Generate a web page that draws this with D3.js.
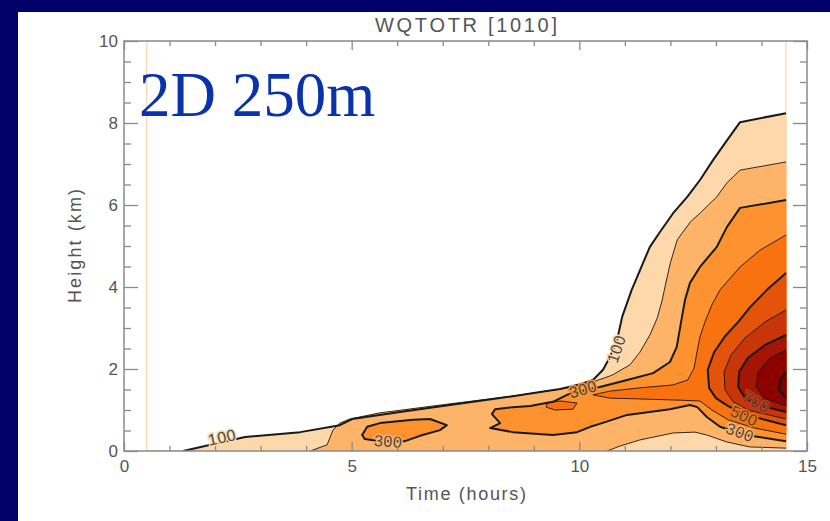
<!DOCTYPE html>
<html><head><meta charset="utf-8">
<script src="https://cdn.jsdelivr.net/npm/d3@7"></script>
<style>html,body{margin:0;padding:0;background:#ffffff;overflow:hidden;} svg{display:block}</style>
</head><body>
<svg id="chart" width="830" height="521"></svg>
<script>
// ---------- data ----------
const timeMajorTicks = [0, 5, 10, 15];
const timeMinorTicks = [1, 2, 3, 4, 6, 7, 8, 9, 11, 12, 13, 14];
const heightMajorTicks = [0, 2, 4, 6, 8, 10];
const heightMinorTicks = [0.5, 1, 1.5, 2.5, 3, 3.5, 4.5, 5, 5.5, 6.5, 7, 7.5, 8.5, 9, 9.5];
const timeStart = 0.5, timeEnd = 14.54;

const levels = [100, 200, 300, 400, 500, 600, 700, 800, 900];
const levelColors = ["#FDD8AA", "#FDB469", "#FD922E", "#F8720F", "#E3530A", "#C83508", "#A51503", "#8C0200", "#780000"];

// contour lines, [time (h), height (km)]
const c100 = [[1.30,0],[1.78,0.12],[2.66,0.34],[3.87,0.46],[4.74,0.63],[5.01,0.78],[6.06,0.95],[7.16,1.12],[8.26,1.29],[9.14,1.44],[9.58,1.51],[10.02,1.63],[10.30,1.73],[10.52,1.98],[10.67,2.29],[10.83,2.71],[10.94,3.27],[11.15,3.93],[11.40,4.59],[11.55,4.98],[11.77,5.34],[12.06,5.80],[12.37,6.20],[12.65,6.61],[12.94,7.10],[13.25,7.59],[13.53,8.02],[14.54,8.24]];
const c200Upper = [[4.09,0],[4.46,0.15],[4.59,0.51],[4.74,0.68],[4.96,0.78],[5.62,0.93],[7.16,1.15],[8.54,1.34],[9.58,1.51],[10.24,1.66],[10.72,1.85],[11.11,2.10],[11.33,2.41],[11.55,2.83],[11.71,3.24],[11.82,3.68],[11.89,4.05],[12.00,4.59],[12.15,5.15],[12.44,5.59],[12.65,5.80],[13.02,6.20],[13.24,6.54],[13.53,6.85],[14.54,7.05]];
const c200Lower = [[14.54,0.07],[13.74,0.10],[13.24,0.22],[12.80,0.39],[12.54,0.46],[12.06,0.44],[11.33,0.27],[10.89,0.12],[10.61,0]];
const c300 = [[14.54,6.12],[13.53,5.93],[13.24,5.46],[13.02,4.98],[12.65,4.49],[12.43,4.10],[12.32,3.68],[12.23,3.12],[12.14,2.54],[11.99,2.17],[11.62,1.90],[11.05,1.73],[10.45,1.56],[10.13,1.49],[9.73,1.37],[9.42,1.20],[8.92,1.10],[8.54,1.07],[8.15,1.02],[8.08,0.90],[8.26,0.68],[8.04,0.56],[8.54,0.46],[9.42,0.39],[9.95,0.46],[10.24,0.59],[10.50,0.68],[11.05,0.88],[11.99,1.02],[12.43,1.12],[12.59,1.07],[12.80,0.83],[13.09,0.59],[13.64,0.39],[14.54,0.24]];
const c300Island = [[5.23,0.39],[5.34,0.59],[5.62,0.68],[6.35,0.76],[6.72,0.78],[7.09,0.63],[6.94,0.51],[6.50,0.37],[6.17,0.24],[5.62,0.24],[5.29,0.29]];
const c400 = [[14.54,5.27],[13.97,4.90],[13.53,4.49],[13.09,3.93],[12.91,3.56],[12.76,3.15],[12.65,2.78],[12.58,2.39],[12.52,2.02],[12.38,1.73],[12.05,1.61],[11.33,1.54],[10.67,1.46],[10.30,1.37],[10.67,1.29],[11.33,1.27],[12.21,1.24],[12.65,1.22],[12.91,1.00],[13.27,0.76],[13.85,0.56],[14.54,0.41]];
const c400Spot = [[9.29,1.17],[9.58,1.22],[9.95,1.17],[9.86,1.02],[9.47,1.00],[9.27,1.07]];
const c500 = [[14.54,4.34],[14.12,3.93],[13.75,3.51],[13.49,3.15],[13.20,2.80],[12.96,2.41],[12.82,1.98],[12.85,1.54],[13.00,1.29],[13.26,1.10],[13.64,0.90],[14.08,0.76],[14.54,0.63]];
const c600 = [[14.54,3.44],[14.08,3.15],[13.64,2.76],[13.33,2.34],[13.18,1.93],[13.20,1.49],[13.38,1.20],[13.70,1.00],[14.54,0.78]];
const c700 = [[14.54,2.83],[14.08,2.59],[13.70,2.27],[13.51,1.93],[13.49,1.56],[13.64,1.29],[13.93,1.12],[14.54,0.95]];
const c800 = [[14.54,2.46],[14.19,2.27],[13.93,1.93],[13.88,1.56],[14.06,1.29],[14.54,1.10]];
const c900 = [[14.54,1.93],[14.41,1.73],[14.38,1.49],[14.54,1.29]];

// contour labels: text, time, height, angle
const labelTexts = ["100", "300", "100", "300", "700", "500", "300"];
const labelTimes = [2.15, 5.80, 10.81, 10.08, 13.88, 13.62, 13.53];
const labelHeights = [0.34, 0.24, 2.49, 1.51, 1.20, 0.86, 0.46];
const labelAngles = [-12, 4, -72, -16, 30, 25, 20];
const labelLevels = [100, 200, 100, 300, 600, 400, 200];

// ---------- chart ----------
const svg = d3.select("#chart");
const W = 830, H = 521;
svg.append("rect").attr("width", W).attr("height", H).attr("fill", "#ffffff");
svg.append("rect").attr("x", 0).attr("y", 0).attr("width", W).attr("height", 12).attr("fill", "#000068");
svg.append("rect").attr("x", 0).attr("y", 0).attr("width", 18).attr("height", H).attr("fill", "#000068");

const x = d3.scaleLinear().domain([0, 15]).range([124, 807]);
const y = d3.scaleLinear().domain([0, 10]).range([451, 41]);
const color = d3.scaleOrdinal().domain(levels).range(levelColors);

svg.append("defs").append("clipPath").attr("id", "plotclip")
  .append("rect").attr("x", x(0)).attr("y", y(10)).attr("width", x(15) - x(0)).attr("height", y(0) - y(10));

const plot = svg.append("g").attr("clip-path", "url(#plotclip)");

// data domain edges (very light orange)
plot.append("rect")
  .attr("x", x(timeStart)).attr("y", y(10)).attr("width", x(timeEnd) - x(timeStart)).attr("height", y(0) - y(10))
  .attr("fill", "none").attr("stroke", "#fbd3ad").attr("stroke-width", 1.2);

const line = d3.line().x(d => x(d[0])).y(d => y(d[1]));

const fills = [
  {level: 100, poly: c100.concat([[timeEnd, 0]])},
  {level: 200, poly: c200Upper.concat(c200Lower)},
  {level: 300, poly: c300},
  {level: 300, poly: c300Island},
  {level: 400, poly: c400},
  {level: 400, poly: c400Spot},
  {level: 500, poly: c500},
  {level: 600, poly: c600},
  {level: 700, poly: c700},
  {level: 800, poly: c800},
  {level: 900, poly: c900}
];
plot.selectAll("path.fill").data(fills).join("path").attr("class", "fill")
  .attr("d", d => line(d.poly) + "Z")
  .attr("fill", d => color(d.level)).attr("stroke", d => color(d.level)).attr("stroke-width", 0.5);

const strokes = [
  {level: 100, pts: c100}, {level: 200, pts: c200Upper}, {level: 200, pts: c200Lower},
  {level: 300, pts: c300}, {level: 300, pts: c300Island, closed: true},
  {level: 400, pts: c400}, {level: 400, pts: c400Spot, closed: true},
  {level: 500, pts: c500}, {level: 600, pts: c600}, {level: 700, pts: c700},
  {level: 800, pts: c800}, {level: 900, pts: c900}
];
plot.selectAll("path.cline").data(strokes).join("path").attr("class", "cline")
  .attr("d", d => line(d.pts) + (d.closed ? "Z" : ""))
  .attr("fill", "none").attr("stroke", "#1a1a1a")
  .attr("stroke-linejoin", "round")
  .attr("stroke-width", d => (d.level % 200 === 100) ? 2 : 0.9);

// contour labels
plot.selectAll("text.clabel").data(labelTexts).join("text").attr("class", "clabel")
  .attr("transform", (d, i) => `translate(${x(labelTimes[i])},${y(labelHeights[i])}) rotate(${labelAngles[i]})`)
  .attr("text-anchor", "middle").attr("dy", "0.36em")
  .attr("font-family", "Liberation Sans, Arial, sans-serif").attr("font-size", 16)
  .attr("letter-spacing", 0.5)
  .attr("fill", "#4a4a4a")
  .attr("stroke", (d, i) => color(labelLevels[i])).attr("stroke-width", 3).attr("paint-order", "stroke")
  .text(d => d);

// axes
const axisColor = "#8a8a8a";
function styleAxis(g) {
  g.selectAll(".domain").remove();
  g.selectAll(".tick line").attr("stroke", axisColor).attr("stroke-width", 1.3);
  g.selectAll(".tick text").attr("fill", "#555").attr("font-family", "Liberation Sans, Arial, sans-serif").attr("font-size", 17);
}
svg.append("g").attr("transform", `translate(0,${y(0)})`)
  .call(d3.axisBottom(x).tickValues(timeMajorTicks).tickFormat(d3.format("d")).tickSize(-9).tickPadding(9)).call(styleAxis);
svg.append("g").attr("transform", `translate(0,${y(0)})`)
  .call(d3.axisBottom(x).tickValues(timeMinorTicks).tickFormat("").tickSize(-5)).call(styleAxis);
svg.append("g").attr("transform", `translate(0,${y(10)})`)
  .call(d3.axisTop(x).tickValues(timeMajorTicks).tickFormat("").tickSize(-9)).call(styleAxis);
svg.append("g").attr("transform", `translate(0,${y(10)})`)
  .call(d3.axisTop(x).tickValues(timeMinorTicks).tickFormat("").tickSize(-5)).call(styleAxis);
svg.append("g").attr("transform", `translate(${x(0)},0)`)
  .call(d3.axisLeft(y).tickValues(heightMajorTicks).tickFormat(d3.format("d")).tickSize(-14).tickPadding(6)).call(styleAxis);
svg.append("g").attr("transform", `translate(${x(0)},0)`)
  .call(d3.axisLeft(y).tickValues(heightMinorTicks).tickFormat("").tickSize(-7)).call(styleAxis);
svg.append("g").attr("transform", `translate(${x(15)},0)`)
  .call(d3.axisRight(y).tickValues(heightMajorTicks).tickFormat("").tickSize(-14)).call(styleAxis);
svg.append("g").attr("transform", `translate(${x(15)},0)`)
  .call(d3.axisRight(y).tickValues(heightMinorTicks).tickFormat("").tickSize(-7)).call(styleAxis);

// frame
svg.append("rect").attr("x", x(0)).attr("y", y(10)).attr("width", x(15) - x(0)).attr("height", y(0) - y(10))
  .attr("fill", "none").attr("stroke", axisColor).attr("stroke-width", 1.5);

// titles
svg.append("text").attr("x", 466).attr("y", 32).attr("text-anchor", "middle")
  .attr("font-family", "Liberation Sans, Arial, sans-serif").attr("font-size", 20).attr("fill", "#555")
  .attr("textLength", 182).attr("lengthAdjust", "spacing")
  .text("WQTOTR [1010]");
svg.append("text").attr("x", 466).attr("y", 500).attr("text-anchor", "middle")
  .attr("font-family", "Liberation Sans, Arial, sans-serif").attr("font-size", 18).attr("fill", "#555")
  .attr("textLength", 120).attr("lengthAdjust", "spacing")
  .text("Time (hours)");
svg.append("text").attr("transform", `translate(81,${(y(0) + y(10)) / 2}) rotate(-90)`).attr("text-anchor", "middle")
  .attr("font-family", "Liberation Sans, Arial, sans-serif").attr("font-size", 18).attr("fill", "#555")
  .attr("textLength", 114).attr("lengthAdjust", "spacing")
  .text("Height (km)");

svg.append("text").attr("x", 139).attr("y", 116)
  .attr("font-family", "Liberation Serif, Times New Roman, serif").attr("font-size", 63).attr("fill", "#0a32aa")
  .text("2D 250m");
</script>
</body></html>
